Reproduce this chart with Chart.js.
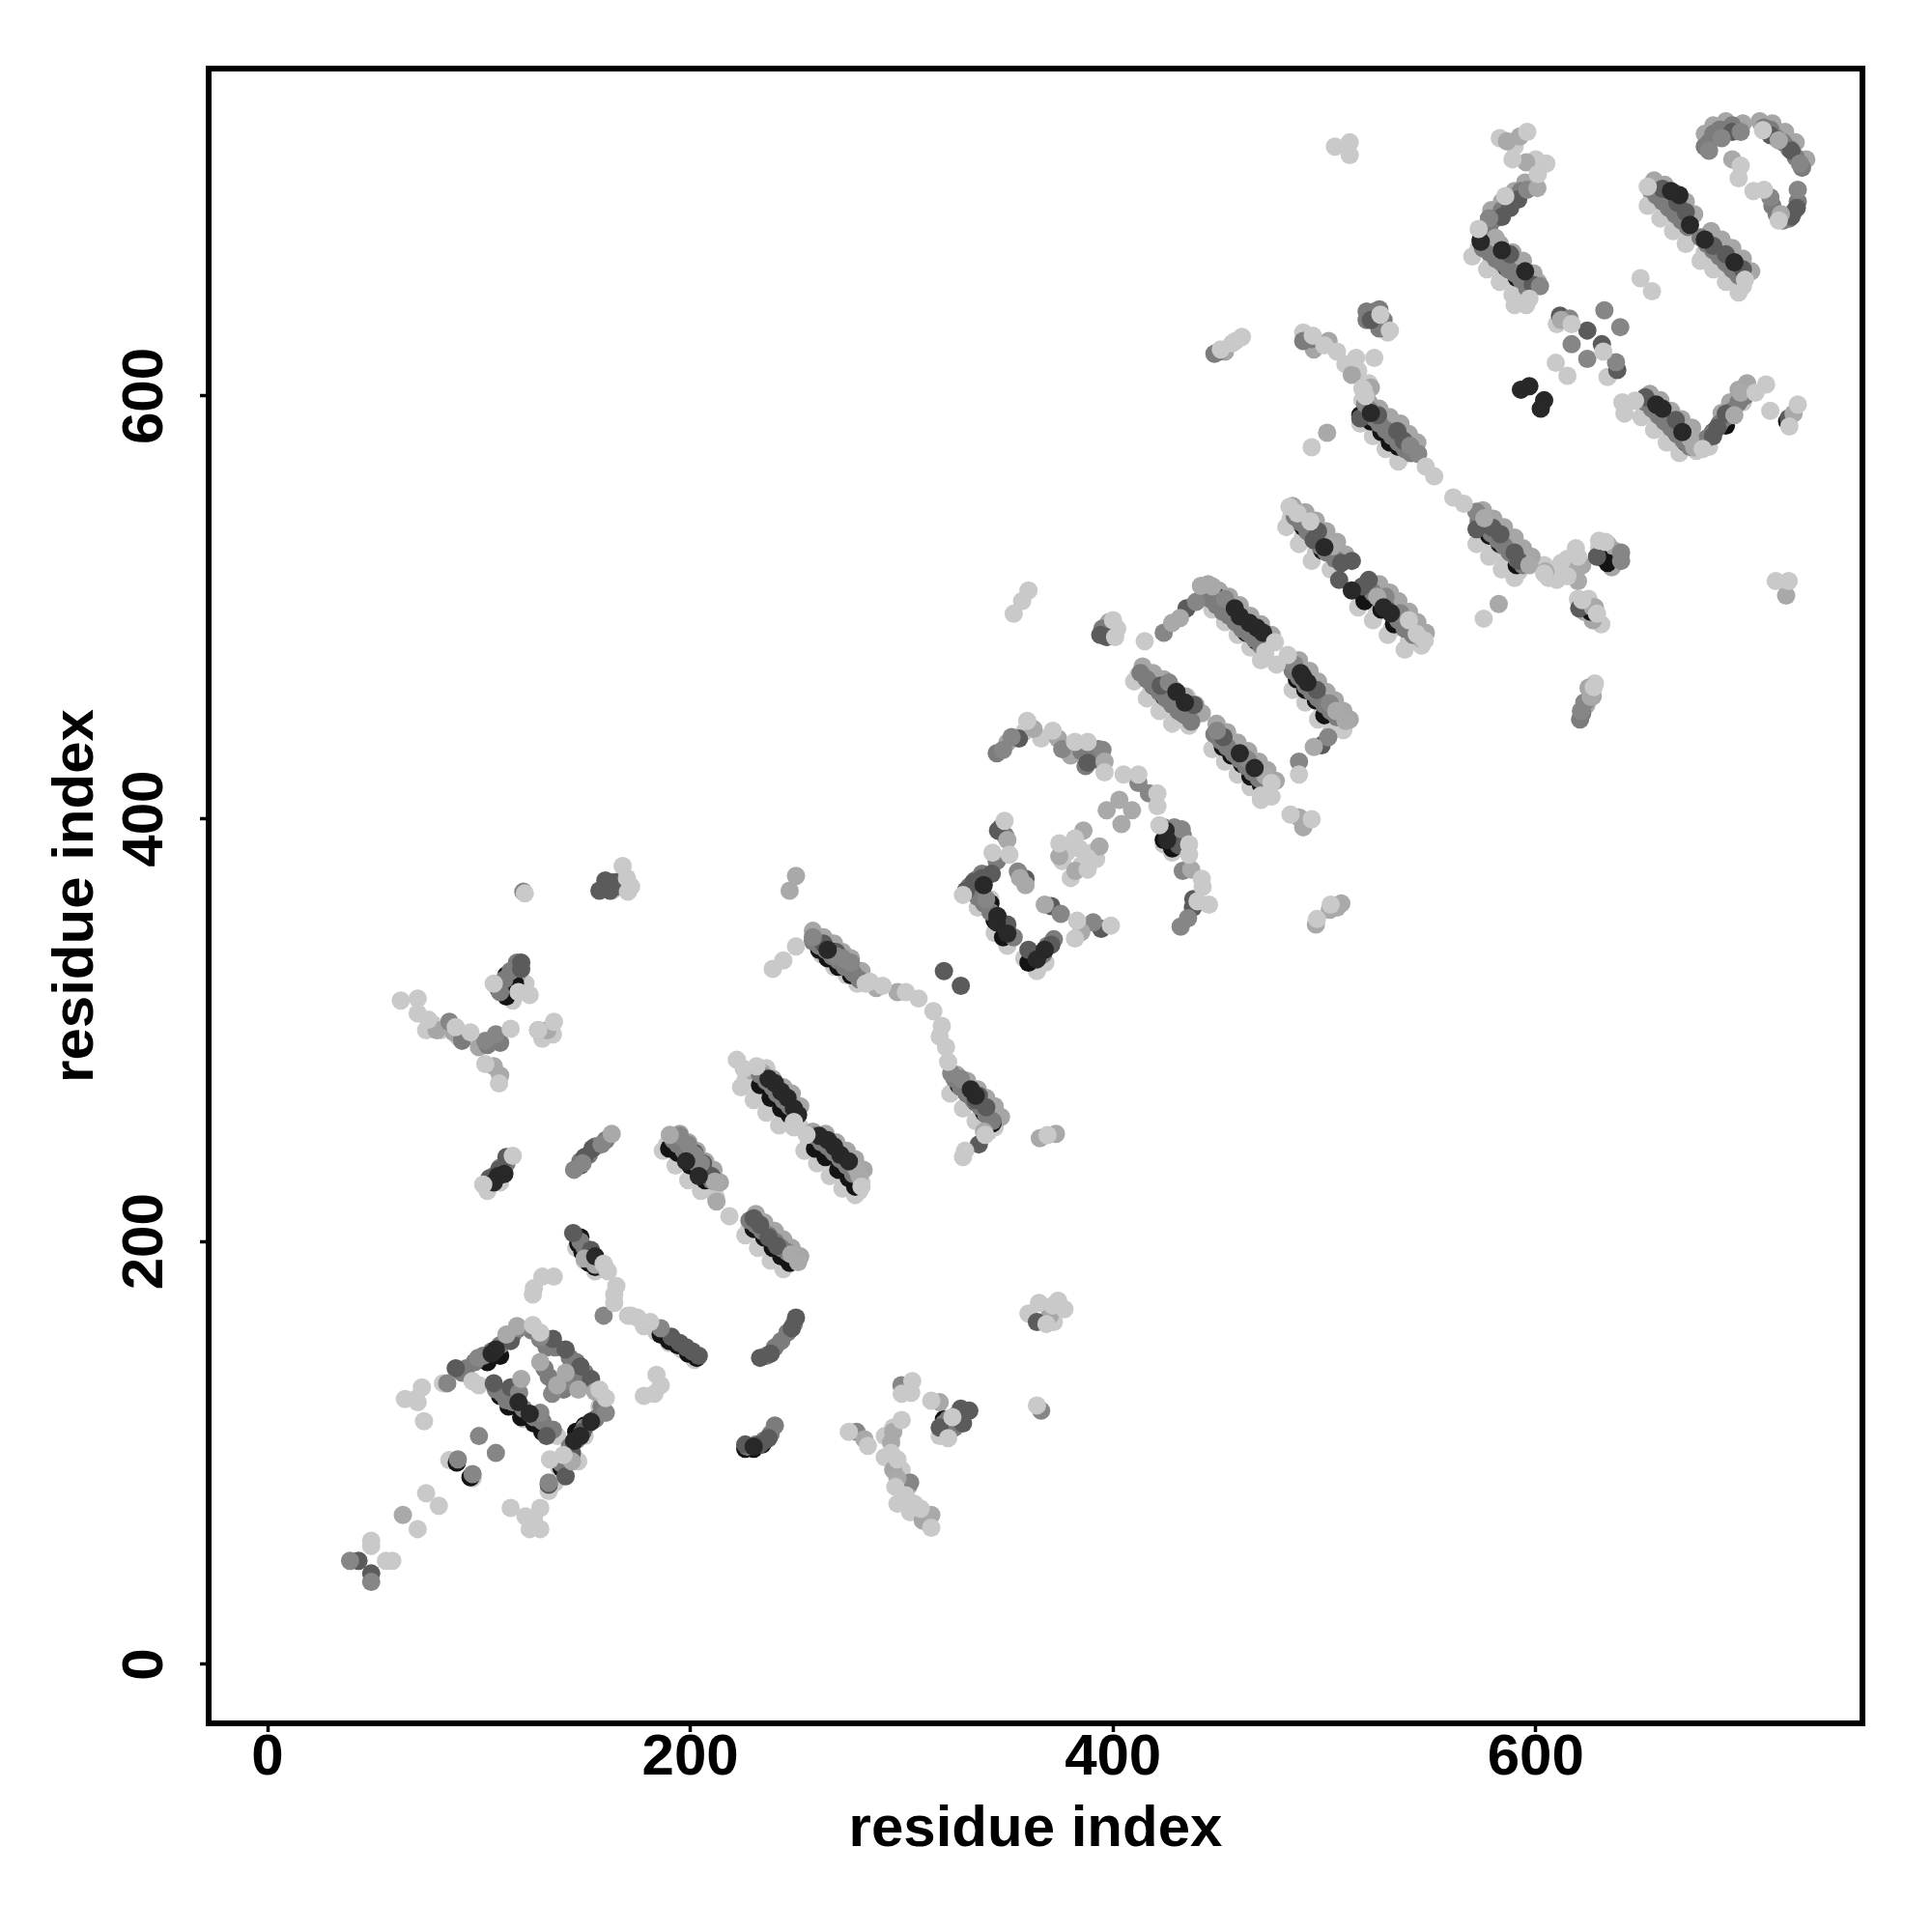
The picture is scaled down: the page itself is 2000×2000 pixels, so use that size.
<!DOCTYPE html>
<html>
<head>
<meta charset="utf-8">
<title>residue contacts</title>
<script src="https://cdn.jsdelivr.net/npm/chart.js@4/dist/chart.umd.min.js"></script>
<style>
  html, body { margin: 0; padding: 0; background: #fff; }
  canvas { display: block; }
</style>
</head>
<body>
<canvas id="myChart" width="2000" height="2000"></canvas>
<script>
const tickValues = [0, 200, 400, 600];
const axisLabel = "residue index";

// each list is one grey level, greyLayers below sets the stacking
const lightBack = [
  [83,133],[100,132],[112,126],[121,116],[129,112],[137,108],[138,93],[133,82],[136,86],[147,96],[150,108],[157,122],[86,96.6],[97,88],
  [146,197],[150,191],[155,186],[189,246],[195,240],[201,233],[207,227],[212,221],[228,206],[234,200],[240,194],[246,189],
  [172,165],[178,160],[184,157],[190,152],[196,149],[202,144],[226,276],[232,270],[238,264],[244,258],[249,254],[252,254],
  [256,246],[262,240],[268,234],[274,228],[280,224],[281,228],[104,224],[110,228],[262,336],[268,330],[274,326],[279,322],
  [326,272],[332,266],[338,260],[344,254],[412,468],[418,460],[424,454],[430,448],[436,444],[449,436],[455,430],[461,424],[467,418],[472,412],
  [449,502],[455,496],[461,490],[467,484],[472,478],[487,464],[493,458],[499,450],[505,444],[509,442],
  [484,542],[490,534],[496,526],[503,518],[518,504],[525,498],[532,490],[540,484],[546,482],
  [519,590],[525,584],[531,578],[537,572],[574,534],[580,528],[586,522],[592,517],[606,514],[610,513],
  [573,670],[579,664],[585,658],[591,652],[596,646],[652,594],[658,588],[664,582],[670,576],[676,574],[682,576],
  [655,694],[661,688],[667,682],[673,676],[680,668],[686,664],[692,658],[698,652],[610,634],[634,609],
  [342,362],[336,358],[344,346],[350,340],[358,334],[364,328],[368,332],[428,384],[424,388],[318,108],[324,112],[163,366],[167,368],
  [435,457.7],[437,447],[457,435.6],[592,664],[530,588],[587,530],[663,592.5],[698,597],
  [187,243],[193,236],[199,229],[205,224],[226,203],[232,197],[238,191],[244,187],[224,273],[230,267],[236,261],[242,255],[254,243],[260,237],[266,231],[272,225],[278,222],
  [323,270],[329,263],[335,257],[341,252],[410,465],[416,457],[422,451],[428,445],[447,433],[453,427],[459,421],[465,415],[470,409],[447,499],[453,493],[459,487],[465,481],[470,475],
  [485,461],[491,455],[497,447],[503,441],[482,538],[488,530],[494,522],[516,500],[523,494],[530,487],[538,480],[517,587],[523,581],[529,575],[535,569],[572,530],[578,524],[584,518],[590,514],
  [570,666],[577,660],[583,654],[589,648],[650,590],[656,584],[662,578],[668,573],[653,690],[659,684],[665,678],[671,672],[678,664],[684,660],[690,654],[696,649],
  [110,322],[116,314],[122,322],[75,300],[78,303],[82,300],[90,297],[130,296],[135,298],[172,368],[378,384],[384,386],[376,380],[390,384],[385,378],[392,381],[380,372],
  [292,98],[300,92],[296,112],[292,108],[298,76],[304,72],[360,166],[374,172],[372,162],[590,718],[600,712],[583,722],[510,615],[516,612],[521,606],[518,598],[530,630],[490,630],[458,626],
  [628,464],[620,504],[631,492],[625,504],[604,520],[610,518],[614,520],[615,523],[619,528],[630,528],[358,441],[366,438],[402,490],[222,286],[236,282]
];
const blackBack = [
  [104,143],[110,146],[110,127],[114,122],[120,117],[126,114],[130,110],[146,110],[150,113],[143,102],[139,93],
  [89.5,95.5],[96,88.5],[147,199],[149,195],[152,190],[155,188],[148,202],[190,244],[194,242],[200,236],[204,232],[207,229],
  [230,206],[235,202],[239,197],[243,193],[247,190],[233,274],[238,268],[243,263],[247,260],[259,244],[264,240],[270,234],[275,230],[278,226],
  [186,156],[190,153],[194,151],[199,147],[203,145],[109,320],[113,316],[113,326],[117,322],[160,368],[261,338],[265,334],[270,330],[276,326],
  [327,274],[331,270],[335,266],[339,261],[343,256],[419,463],[424,458],[429,454],[433,450],[452,434],[456,430],[461,426],[465,420],[470,416],
  [449,505],[454,498],[459,494],[463,488],[468,484],[487,466],[491,461],[496,456],[500,449],[490,538],[495,532],[499,527],[519,503],[527,499],[533,492],
  [517,591],[522,588],[527,583],[531,578],[535,576],[574,538],[578,534],[583,530],[588,526],[591,520],[574,674],[578,670],[582,665],[586,661],[591,656],
  [655,596],[659,591],[663,587],[667,582],[671,578],[424,390],[428,386],[338,366],[342,360],[344,352],[348,344],[360,332],[320,116],[323,113],
  [226,102],[230,102],[234,104],[626,498],[630,524],[634,521],[617,516],[684,583],[690,586],[719,588]
];
const midBack = [
  [195,251],[199,247],[203,243],[207,238],[211,234],[214,228],[231,213],[235,209],[240,205],[244,201],[248,197],[252,193],
  [229,281],[234,280],[239,277],[244,273],[248,270],[252,264],[258,252],[264,251],[269,247],[274,243],[278,239],[282,234],
  [258,347],[263,344],[268,341],[272,337],[276,334],[281,328],[326,279],[331,276],[336,272],[340,268],[344,264],[347,259],
  [414,472],[419,469],[424,466],[429,461],[434,458],[439,454],[442,450],[449,445],[454,441],[459,436],[464,432],[469,427],[473,423],[477,418],
  [445,511],[450,508],[455,505],[460,501],[465,496],[470,492],[475,487],[488,475],[493,470],[497,465],[501,460],[505,456],[509,451],[512,447],
  [485,548],[491,545],[496,541],[501,536],[506,531],[510,525],[526,511],[531,507],[535,503],[540,498],[544,493],[548,488],
  [521,597],[526,594],[531,590],[536,587],[540,582],[544,578],[575,546],[580,542],[585,538],[590,533],[594,528],[598,524],
  [579,688],[584,692],[590,697],[595,701],[578,674],[583,672],[589,668],[594,664],[599,658],[601,654],
  [656,702],[661,700],[666,696],[671,692],[675,686],[683,678],[688,674],[693,670],[698,665],[702,659],
  [654,601],[659,598],[664,593],[669,589],[674,585],[688,592],[692,597],[696,603],[700,606],
  [680,724],[684,728],[690,730],[698,729],[706,730],[712,729],[718,725],[723,720],[728,712],
  [116,326],[118,326],[80,300],[88,299],[100,292],[296,92],[303,84],[310,68],[370,165],[522,604],[513,610],[495,622],[502,626],[453,621],[624,454],[627,458],[625,462],
  [623,498],[627,494],[628,500],[622,520],[618,515],[634,530],[637,527],[632,527],[636,519],[374,438],[380,430],[350,436],[398,493],[128,300]
];
const grayBack = [
  [92,138],[94,140],[98,143],[102,146],[106,148],[110,151],[113,153],[116,156],[108,130],[111,128],[113,125],[116,124],[121,121],[126,117],[130,115],[135,111],
  [139,95],[141,99],[143,103],[146,106],[150,112],[155,116],[158,122],[125,158],[129,154],[132,150],[136,150],[143,145],[146,143],[150,138],[153,133],[157,128],
  [131,140],[133,136],[136,131],[140,130],[144,135],[148,200],[150,197],[152,195],[154,192],[157,190],[160,187],
  [192,248],[194,246],[197,243],[200,240],[203,237],[205,234],[208,232],[210,229],[228,210],[231,208],[234,205],[237,203],[240,200],[243,197],[246,195],
  [233,279],[236,276],[239,273],[241,270],[244,267],[247,264],[250,260],[259,250],[262,247],[265,245],[268,242],[271,239],[274,236],[277,232],
  [258,342],[261,340],[264,338],[267,335],[270,333],[273,330],[277,327],[280,324],[325,277],[328,273],[331,270],[334,267],[337,264],[340,260],[343,257],
  [413,469],[416,466],[419,463],[422,460],[425,457],[428,454],[431,451],[434,449],[437,446],[448,440],[451,437],[454,434],[457,431],[460,428],[463,425],[466,422],[469,419],[472,416],
  [443,507],[446,504],[449,501],[452,498],[455,496],[458,493],[461,490],[464,488],[467,485],[470,482],[485,470],[488,467],[491,463],[494,460],[497,457],[500,454],[503,451],[506,448],
  [486,543],[489,540],[492,536],[495,533],[498,529],[501,526],[505,523],[523,507],[526,504],[529,500],[532,497],[535,494],[538,490],[542,487],
  [520,592],[523,590],[526,587],[529,584],[532,581],[535,578],[538,575],[541,573],[573,541],[576,538],[579,535],[582,532],[585,529],[588,526],[591,523],[594,520],
  [575,677],[578,680],[581,684],[584,688],[587,691],[590,694],[593,697],[575,670],[578,668],[581,665],[584,663],[587,660],[590,658],[593,655],[596,651],
  [654,698],[657,695],[660,692],[663,689],[666,686],[669,683],[672,680],[678,675],[681,672],[684,669],[687,666],[690,663],[693,660],[696,657],
  [652,597],[655,594],[658,591],[661,588],[664,585],[667,582],[670,579],[673,576],[677,577],[681,580],[684,583],[687,587],[690,590],[693,593],[696,597],[699,600],
  [682,720],[684,724],[687,726],[690,726],[693,728],[680,718],[708,727],[711,726],[714,722],[717,720],[720,717],[723,713],[726,708],[712,690],[714,686],[717,683],[720,684],[722,687],[724,692],
  [347,396],[349,392],[345,380],[338,374],[335,371],[332,368],[336,363],[339,360],[342,356],[346,352],[350,347],[353,344],[364,334],[367,336],[369,340],[372,343],
  [424,396],[427,392],[430,390],[433,392],[385,432],[390,429],[393,433],[387,425],[112,324],[115,328],[118,332],[110,318],[163,370],[166,368],
  [450,621],[448,620],[494,627],[490,626],[520,640],[526,641],[524,640],[520,636],[526,632],[528,636],[227,103],[231,104],[235,106],[238,109],[240,113],[236,146],[240,150],[243,153],[246,157],[249,161],
  [322,116],[326,118],[330,120],[320,114],[325,112],[107,231],[110,235],[113,237],[148,238],[152,241],[155,245],[160,248],[622,450],[621,447],[92,295],[104,293],[110,294],[395,490],[345,431],[392,428],[385,435]
];
const dark = [
  [43,49],[49,43],[107,133],[115,131],[133,85],[141,89],[132,108],[149,110],[144,100],[153,135],[148,141],[135,154],[141,149],[115,153],[89,140],
  [144.6,204],[153,196],[210,231],[206,237],[202,242],[233,208],[237,202],[241,198],[230,211],[109.5,234],[113,240],[105,230],[153.7,244],[150,240],[148,236],
  [120,332],[120,329],[159.8,370.8],[157,366],[162,366],[165,370],[263,341],[269,337],[268,337],[332,120],[328,121],[329,114],[318,112],[364,162],[336.5,246],[320,328],[328,321],
  [336.5,269],[340,263.5],[335,267],[355.5,438],[388,426.5],[345.6,394.5],[342.6,374],[338,372],[330.4,366],[334,370],[358.6,371.6],[370.8,358.7],[370.8,340.4],[394.4,348],[350,350],[360,338],[431,387.6],[437.8,358],[438,362],
  [422.6,463],[438.3,453.9],[452.3,438.7],[434.8,499.6],[498.7,434.8],[496.4,461],[497,536],[495,532],[508,521],[513,522],[507,513],[521,513],[529,500],[518,510],
  [517,589.5],[525.4,591],[534.5,583.4],[537.6,578.8],[572,537],[579.5,537.7],[583.3,534.6],[590,526],[592,522],[620.6,499.6],[629,524],
  [611.5,638],[631.3,624.5],[638.6,612.3],[624.4,631],[591.7,693],[587.9,689],[584,684.7],[587.9,667],[598.6,652.7],[651.9,599.4],[666.3,588.7],[686,585],[690,591.7],[683.9,581],[719.7,589.5],
  [693,725],[711,723.5],[721,716],[721,685],[723.5,689],[660,698],[667,691.5],[671,687],[684,671],[690,667],[698,660],[226,104],[233,104],[237,107],[233,145],[238,147],[248,159],[250,164],[578,684],
  [191,155],[195,152],[198,150],[201,148],[204,146],[522,636],[397,486],[394,487]
];
const gray = [
  [39,49],[49,39],[90,97],[97,90],[100,108],[108,100],[85,133],[99.6,145],[119,159],[119,128.5],[129,119],[160,119],[133,86],[129,155],
  [134.6,128],[140,134],[121,365.5],[145,234],[149,237],[158,246],[186,159],[159,165],[195,250],[199,246],[202,241],[205,237],
  [86,304],[103,295],[108,298],[258,344],[276,332],[269,335],[272,334],[323.5,279.5],[328,277],[299.9,132],[278.6,110],[304,86],[366,120],
  [348,432.6],[352,438.7],[376,433],[395,432.6],[412,417],[417,412],[429,396],[432.5,395],[433,375.4],[435.5,353],[432,349],[355,375],[375.3,355],[390.6,351],[340,362],
  [426.4,464.5],[449.2,441.7],[463.7,428],[439.3,502.6],[424,488],[453,504],[485.8,473],[502.5,454.6],[501.8,438.6],[488,427],[529,505],[536,497.3],
  [519.3,596.3],[521.6,593.3],[540.6,576.5],[544.4,572.7],[571.9,545.3],[640.4,526],[640.4,522],[621.4,451],[623,455],
  [596,697.6],[578,684],[602,652],[616,636.7],[638,616],[640,632.6],[632.5,640.5],[617,624.5],[624.4,617.6],[711,694],[724,697.6],[725,710],[697,725],[688,722],[682,716]
];
const mid = [
  [64,70.7],[118,160],[113,156],[129,143],[137,132],[147,130],[141,138],[120,135],[155,129],[144,96],[150,192],[155,189],
  [190.3,250.5],[211.6,228.4],[212.4,219],[247.8,194],[251,190.3],[278.6,234.5],[280,231],[162.8,251],[132.4,300],[107,283],[110,278.6],[250,373],[247,366],
  [288,320],[298,318],[339,252],[365.4,248.9],[373,251],[282.4,106.5],[296,110],[295,105],[298,88],[314,70.7],[318,124],
  [362.4,442.5],[396,427],[367.7,359.4],[385,346.5],[358.6,368.6],[374.6,382.3],[386,394.5],[393.6,386.9],[382.2,375.4],[403,409],[397,404],[409,404],[404,397.5],
  [437,376],[350,390],[356,372],[502.6,357],[508,360],[488,400.6],[490,396],[472,420.4],[505.6,451],[510,446.3],[495,434],[441.6,510.2],[447,510],[431.7,495],[428,492.7],
  [504,529],[525,505],[546,485],[501.3,582.6],[575.7,542.2],[597,520],[604.6,517],[620,518.6],[620,512.5],[627,500],[626,457.7],[582.5,501.6],[718.5,505.6],
  [586.4,720.5],[592.5,722.8],[600.8,698.4],[595.5,710.6],[581,674.8],[612,636],[673,580],[675,575.7],[694,591],[697,601.6],[722,591.7],[716,686],[715,721],[693,712],[496,350],[506,358]
];
const blackFront = [
  [106,147],[108,149],[155,193],[118.7,124],[124,118.6],[153,114.8],[145,105.7],[148,108],
  [107,228],[109,231],[112,232],[237,277],[240,275],[243,271],[246,268],[249,263],[251,260],[261,250],[265,248],[268,245],[271,241],[275,238],[198,238],[204,231],
  [265,338],[332.7,272],[335,269],[345.3,354],[345,351],[350,345.7],[364,333.5],[367.7,338],[338.8,368.6],[425.6,390],[424.9,394.5],
  [430,460],[434,455],[460,431],[467,424],[457.6,499.6],[460,495.8],[464.5,492.7],[468,490.4],[471,488],[488.8,469],[492,464.5],[490,467],
  [500,528.5],[513,508],[531.5,497.3],[528,500],[522,592],[593,603],[597,604.7],[604,598],[602.4,594],[584,669],[574,673],[595,659],[657,596],[660,594],[669.4,583],[673,681],[680,674],[694,663.3],[668,695],[664,697],[230,103]
];
const light = [
  [49,58.5],[49,56],[56,49],[59,49],[71,64],[75,81],[81,75],[74,115],[115,74],[122,70],[126,69],[129,74],[124,64],[129,64],
  [65,125.5],[70,125.5],[73,131],[71,124],[96.9,134],[125.5,160.5],[129,157],[126,178],[130,183.4],[135.4,183.4],[125.5,175],[133.6,97],[140,99],[160,126],[157,130],
  [159,189.5],[161,186],[164,175],[164,171],[165,179],[170.5,165],[175,164],[181,162],[186,132],[184,137],[178,127],[183,128],
  [218.5,212],[225.3,281.7],[231.4,283],[249,256.6],[255,250.5],[281,226],[102,227],[116,240.6],[107,322],[124,316.7],[118.7,318],[63,314],[71,315],[71,308],[76,305],[89,301.5],[96,299],[115,300.7],
  [121.7,364.7],[168,377.7],[170,372],[170.5,365.5],[135.5,304],[128,300],[103,284],[109.5,274.8],[239,329],[250,339.6],[283,322],[244,333],
  [285,323],[291,321],[302,318],[308,315],[315,309],[319,302],[321,292],[322,285],[318,297],[339.5,250.5],[330,243],[329,240],[369,250.4],
  [305,134],[304.5,128.5],[300,128],[314,124.7],[322,107],[324,117],[275,110],[284,103.4],[300,115.6],[295,100],[298,97],[297,84],[302,80],[306,76],[314,64.6],[309,73.7],
  [365,171],[371.5,169.7],[377,168],[368.5,161],[364,122.5],[353,497],[357,503],[360,508],[400,494],[401,486],[359.4,446.3],[371.5,441.7],[382,436.4],[388,436.4],[396,422],
  [405,421],[412,421],[421,412],[421,406],[422,397],[436,388],[436,383],[442,371.6],[442.4,367.8],[440,361],[445.4,359.4],[348.7,399],[351,383],[343,384],[329,364],[383,351.8],[382,343.4],[399,349.5],[374.6,388.4],[382,390.7],[388,381.5],[388,376],
  [496.5,352.6],[503,359.4],[484,402],[494,399.8],[475,417],[475,410.5],[470,411],[476.6,483.6],[472,479],[482.7,477.5],[477.4,473],[488,421],[415,484],
  [483.5,547.6],[487.3,544.5],[493.4,540.7],[540,494],[543.7,487.4],[547.5,484.3],[494,575.8],[518.5,603],[548,566.6],[552,562],[561,552],[566,549],[604,516],[612,521],[620,524],[615,514.8],
  [630,531.6],[633,531],[622,503.4],[629,497],[627.5,462.3],[575.4,494.7],[505,718],[512,720],[512,714],[451,622],[456.5,625],[461,628],[494.5,628.6],[500,624],[506,621],[526.5,638.5],[531,631],[515,618],[523.6,618],[518,603.5],[519.5,600],
  [713.6,512.5],[719.7,512.5],[596,725],[589,712],[605,710],[601,705],[585.6,694.6],[573,679],[597,646],[590,643],[595.5,643],[649.6,655.7],[655,649.6],[617,634],[632,621],[609.5,615.7],[615,609.6],
  [641,597],[642,591.7],[647,597.8],[679,575],[704,601.6],[709,605.5],[711,593],[720,585.6],[724,596],[653,699],[699,655],[697,709],[696,703],[703,697],[708,697.6],[715,683],[707.5,725.8]
];

// back to front
const greyLayers = [
  [lightBack, "#c9c9c9"],
  [midBack, "#a6a6a6"],
  [blackBack, "#141414"],
  [grayBack, "#7c7c7c"],
  [dark, "#5b5b5b"],
  [gray, "#868686"],
  [mid, "#a9a9a9"],
  [blackFront, "#282828"],
  [light, "#c9c9c9"]
];

// box round the plot, drawn over the points
const frameBox = {
  id: "frameBox",
  afterDraw(chart) {
    const { ctx, chartArea } = chart;
    ctx.save();
    ctx.strokeStyle = "#000";
    ctx.lineWidth = 6;
    ctx.strokeRect(chartArea.left, chartArea.top, chartArea.right - chartArea.left, chartArea.bottom - chartArea.top);
    ctx.restore();
  }
};

const fixedTicks = (scale) => {
  scale.ticks = tickValues.map((v) => ({ value: v }));
};

const axisFont = { family: "'Liberation Sans', Arial, sans-serif", size: 60, weight: "bold" };

const ctx = document.getElementById("myChart").getContext("2d");
// chart.js paints dataset 0 last, so the layers go in reversed
const myChart = new Chart(ctx, {
  type: "scatter",
  data: {
    datasets: greyLayers.map(([pts, colour]) => ({
      data: pts.map(([x, y]) => ({ x, y })),
      backgroundColor: colour,
      borderWidth: 0,
      pointRadius: 9.5
    })).reverse()
  },
  options: {
    responsive: false,
    animation: false,
    layout: { padding: { top: 71, right: 72, left: 0, bottom: 0 } },
    plugins: { legend: { display: false }, tooltip: { enabled: false } },
    scales: {
      x: {
        type: "linear",
        min: -27.9,
        max: 754.6,
        afterBuildTicks: fixedTicks,
        afterFit: (scale) => { scale.height = 216; },
        border: { display: false },
        grid: { drawOnChartArea: false, drawTicks: true, tickLength: 9, tickWidth: 3.5, tickColor: "#000" },
        ticks: { color: "#000", font: axisFont, padding: -9, maxRotation: 0, autoSkip: false },
        title: { display: true, text: axisLabel, color: "#000", font: axisFont, padding: { top: 0, bottom: 70 } }
      },
      y: {
        type: "linear",
        min: -27.9,
        max: 754.9,
        afterBuildTicks: fixedTicks,
        afterFit: (scale) => { scale.width = 216; },
        border: { display: false },
        grid: { drawOnChartArea: false, drawTicks: true, tickLength: 9, tickWidth: 3.5, tickColor: "#000" },
        ticks: { color: "#000", font: axisFont, padding: 5.5, minRotation: 90, maxRotation: 90, crossAlign: "center", autoSkip: false },
        title: { display: true, text: axisLabel, color: "#000", font: axisFont, padding: { top: 43, bottom: 0 } }
      }
    }
  },
  plugins: [frameBox]
});
</script>
</body>
</html>
